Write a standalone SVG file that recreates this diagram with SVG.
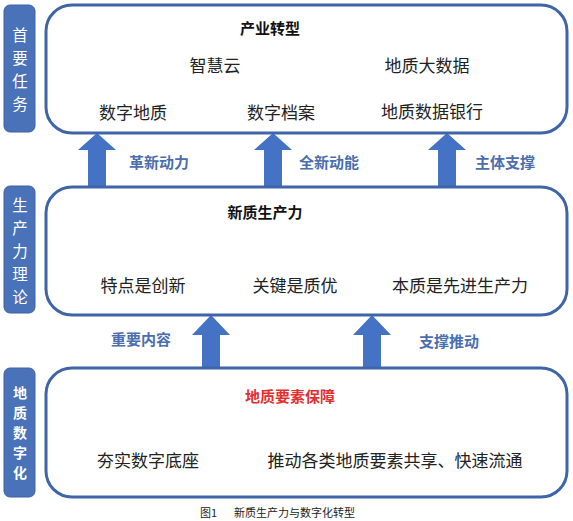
<svg xmlns="http://www.w3.org/2000/svg" width="573" height="521" viewBox="0 0 573 521">
<defs>
<style>
.side{fill:#4a72b8;stroke:#3d63a5;stroke-width:1}
.box{fill:#fff;stroke:#3f65a8;stroke-width:3}
.arr{fill:#4472c4}
.t{font-family:"Noto Sans CJK SC",sans-serif;font-size:17px;fill:#222;text-anchor:middle}
.h{font-family:"Noto Sans CJK SC",sans-serif;font-size:15px;font-weight:bold;fill:#111;text-anchor:middle}
.lab{font-family:"Noto Sans CJK SC",sans-serif;font-size:15px;font-weight:bold;fill:#4a6eae;text-anchor:middle}
.v{font-family:"Noto Sans CJK SC",sans-serif;font-size:15.5px;fill:#fff;text-anchor:middle}
.vb{font-family:"Noto Sans CJK SC",sans-serif;font-size:14px;font-weight:bold;fill:#fff;text-anchor:middle}
</style>
</defs>
<rect width="573" height="521" fill="#fff"/>
<g id="connectors">
<path class="arr" d="M88,187 V150 H78 L97,133 L116,150 H106 V187 Z"/>
<path class="arr" d="M264,187 V150 H254 L273,133 L292,150 H282 V187 Z"/>
<path class="arr" d="M438,187 V150 H428 L447,133 L466,150 H456 V187 Z"/>
<path class="arr" d="M202,368 V335 H192 L211,315 L230,335 H220 V368 Z"/>
<path class="arr" d="M363,368 V335 H353 L372,315 L391,335 H381 V368 Z"/>
<text class="lab" x="159" y="168">革新动力</text>
<text class="lab" x="329" y="168">全新动能</text>
<text class="lab" x="505" y="168">主体支撑</text>
<text class="lab" x="141" y="345">重要内容</text>
<text class="lab" x="449" y="347">支撑推动</text>
</g>
<g id="side1">
<rect class="side" x="4" y="5" width="31" height="127" rx="6"/>
<text class="v"><tspan x="20" y="41">首</tspan><tspan x="20" y="64">要</tspan><tspan x="20" y="87">任</tspan><tspan x="20" y="110">务</tspan></text>
</g>
<g id="side2">
<rect class="side" x="4" y="186" width="31" height="127" rx="6"/>
<text class="v"><tspan x="20" y="211">生</tspan><tspan x="20" y="234">产</tspan><tspan x="20" y="257">力</tspan><tspan x="20" y="280">理</tspan><tspan x="20" y="303">论</tspan></text>
</g>
<g id="side3">
<rect class="side" x="4" y="368" width="31" height="129" rx="6"/>
<text class="vb"><tspan x="20" y="398">地</tspan><tspan x="20" y="418">质</tspan><tspan x="20" y="438">数</tspan><tspan x="20" y="458">字</tspan><tspan x="20" y="478">化</tspan></text>
</g>
<g id="box1">
<rect class="box" x="46" y="5" width="521" height="128" rx="26"/>
<text class="h" x="270" y="34">产业转型</text>
<text class="t" x="215" y="72">智慧云</text>
<text class="t" x="427" y="72">地质大数据</text>
<text class="t" x="133" y="119">数字地质</text>
<text class="t" x="281" y="119">数字档案</text>
<text class="t" x="432" y="118">地质数据银行</text>
</g>
<g id="box2">
<rect class="box" x="46" y="187" width="521" height="128" rx="26"/>
<text class="h" x="265" y="218">新质生产力</text>
<text class="t" x="143" y="292">特点是创新</text>
<text class="t" x="295" y="292">关键是质优</text>
<text class="t" x="460" y="292">本质是先进生产力</text>
</g>
<g id="box3">
<rect class="box" x="46" y="368" width="521" height="129" rx="26"/>
<text class="h" x="290" y="402" style="fill:#e03030">地质要素保障</text>
<text class="t" x="148" y="467">夯实数字底座</text>
<text class="t" x="395" y="467">推动各类地质要素共享、快速流通</text>
</g>
<text x="200" y="517" style="font-family:'Noto Sans CJK SC',sans-serif;font-size:11px;fill:#222">图1</text>
<text x="234" y="517" style="font-family:'Noto Sans CJK SC',sans-serif;font-size:11px;fill:#222">新质生产力与数字化转型</text>
</svg>
